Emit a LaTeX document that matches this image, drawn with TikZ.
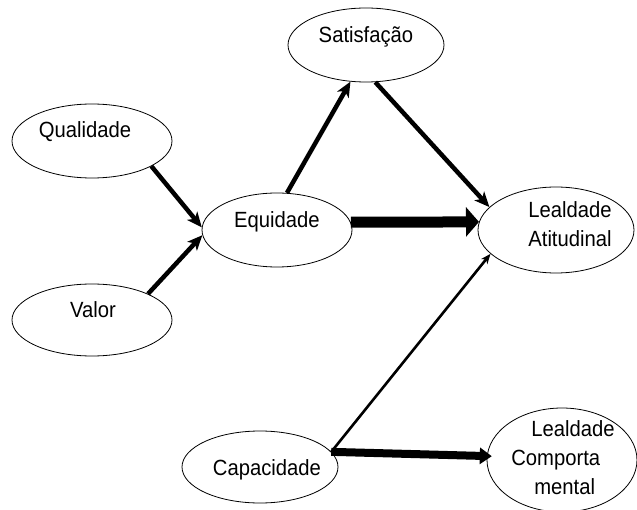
\documentclass[tikz,border=0pt]{standalone}
\usepackage{fontspec}
\setmainfont{Liberation Sans}[FakeStretch=0.92]
\usetikzlibrary{arrows.meta,shapes.geometric}
\begin{document}
\begin{tikzpicture}[x=1pt,y=-1pt,
  oval/.style={ellipse, draw, line width=0.8pt, inner sep=0pt},
  txt/.style={font=\fontsize{22}{29}\selectfont, inner sep=0pt},
  medarrow/.style={line width=4.5pt, -{Stealth[length=15pt,width=13pt,inset=4pt]}},
  thinarrow/.style={line width=2.6pt, -{Stealth[length=10pt,width=8pt,inset=3pt]}},
  bigarrow/.style={line width=11pt, -{Triangle[length=13pt,width=29pt]}},
  widearrow/.style={line width=8pt, -{Triangle[length=12pt,width=16pt]}}
]
\useasboundingbox (0,0) rectangle (637,510);

% constructs
\node[oval, minimum width=156pt, minimum height=74pt] (sat) at (366,45) {};
\node[oval, minimum width=160pt, minimum height=74pt] (qual) at (92,141) {};
\node[oval, minimum width=150pt, minimum height=74pt] (eq) at (277,230) {};
\node[oval, minimum width=160pt, minimum height=72pt] (val) at (92,320) {};
\node[oval, minimum width=156pt, minimum height=86pt] (la) at (556,230) {};
\node[oval, minimum width=156pt, minimum height=72pt] (cap) at (260,467) {};
\node[oval, minimum width=150pt, minimum height=104pt] (lc) at (562,460) {};

% labels
\node[txt, yshift=8pt] (satt) at (sat) {Satisfação};
\node[txt, xshift=-7pt, yshift=9pt] (qualt) at (qual) {Qualidade};
\node[txt, yshift=8pt] (eqt) at (eq) {Equidade};
\node[txt, xshift=1pt, yshift=10pt] (valt) at (val) {Valor};
\node[txt, align=center, xshift=14pt, yshift=6pt] (lat) at (la) {Lealdade\\Atitudinal};
\node[txt, align=left, xshift=1pt, yshift=2pt] (lct) at (lc)
  {\hspace*{20pt}Lealdade\\Comporta\\\hspace*{23pt}mental};
\node[txt, xshift=7pt, yshift=-3pt] (capt) at (cap) {Capacidade};

% paths
\draw[medarrow] (qual.-23) -- (eq.178);
\draw[medarrow] (val.25) -- (eq.-176);
\draw[medarrow] (eq.75) -- (sat.-113);
\draw[medarrow] (sat.-76) -- (la.161);
\draw[bigarrow] (eq.6) -- (la.174);
\draw[thinarrow] (cap.12) -- (la.-160);
\draw[widearrow, shorten >=-5pt] (cap.12) -- (lc.177);
\end{tikzpicture}
\end{document}
